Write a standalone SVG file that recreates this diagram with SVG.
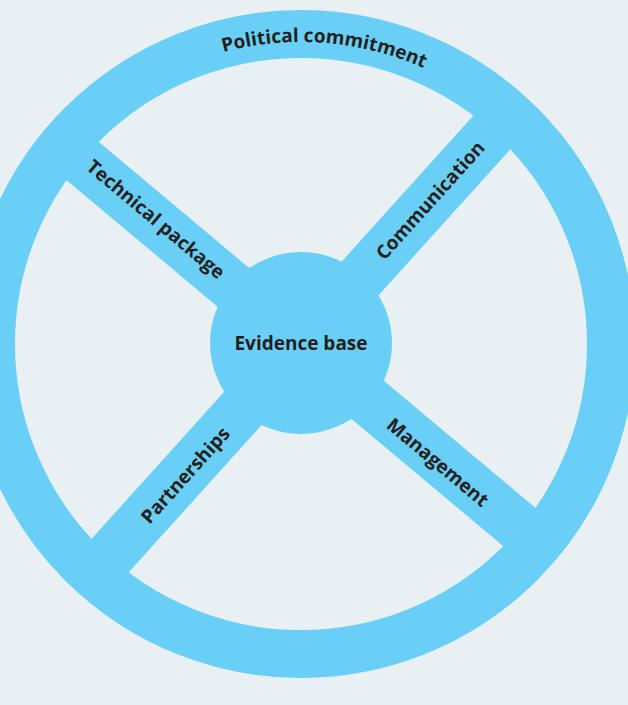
<svg xmlns="http://www.w3.org/2000/svg" width="628" height="705" viewBox="0 0 628 705">
<style>
.t{font-family:"Open Sans","Liberation Sans",sans-serif;font-weight:bold;font-size:19px;fill:#231f20;text-anchor:middle;dominant-baseline:central}
.sp{stroke:#6acff6;stroke-width:50;fill:none}
</style>
<defs><path id="arc" d="M -1 344 A 302 302 0 0 1 603 344"/></defs>
<rect width="628" height="705" fill="#e8f0f4"/>
<g id="connectors">
<line class="sp" x1="301" y1="344" x2="48" y2="132"/>
<line class="sp" x1="301" y1="344" x2="554" y2="556"/>
<line class="sp" x1="301" y1="344" x2="522" y2="99"/>
<line class="sp" x1="301" y1="344" x2="80" y2="589"/>
</g>
<g id="ring"><circle cx="301" cy="344" r="310" fill="none" stroke="#6acff6" stroke-width="48"/>
<text class="t" style="dominant-baseline:auto"><textPath href="#arc" startOffset="498">Political commitment</textPath></text></g>
<g id="hub"><circle cx="301" cy="343" r="91" fill="#6acff6"/><text class="t" x="301" y="343">Evidence base</text></g>
<g id="technical"><text class="t" transform="translate(156,219) rotate(40)">Technical package</text></g>
<g id="communication"><text class="t" transform="translate(430,200) rotate(-48)">Communication</text></g>
<g id="management"><text class="t" transform="translate(438,462) rotate(40)">Management</text></g>
<g id="partnerships"><text class="t" transform="translate(185,475) rotate(-48)">Partnerships</text></g>
</svg>
